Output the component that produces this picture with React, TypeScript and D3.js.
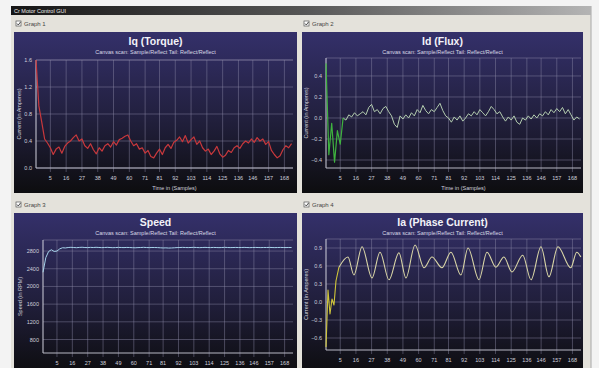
import React from "react";
import * as d3 from "d3";

// ---- shared axis data ----
const xTickLabels = [5, 16, 27, 38, 49, 60, 71, 81, 92, 103, 114, 125, 136, 146, 157, 168];
const xDomain: [number, number] = [-5, 174];
const sampleStart = -5;
const sampleStep = 2;

// ---- Graph 1: Iq (Torque) ----
const iqTicks = [0, 0.4, 0.8, 1.2, 1.6];
const iqValues = [
  1.6, 0.92, 0.68, 0.43, 0.37, 0.3, 0.2, 0.28, 0.31, 0.22,
  0.32, 0.37, 0.4, 0.45, 0.49, 0.4, 0.43, 0.33, 0.29, 0.36,
  0.27, 0.21, 0.3, 0.25, 0.33, 0.36, 0.31, 0.39, 0.34, 0.42,
  0.44, 0.47, 0.49, 0.4, 0.33, 0.36, 0.28, 0.3, 0.22, 0.26,
  0.17, 0.15, 0.22, 0.28, 0.2, 0.3, 0.35, 0.29, 0.38, 0.41,
  0.46, 0.39, 0.48, 0.37, 0.42, 0.46, 0.35, 0.4, 0.3, 0.25,
  0.28, 0.2, 0.25, 0.32, 0.21, 0.16, 0.19, 0.26, 0.23, 0.3,
  0.33, 0.29, 0.36, 0.4, 0.37, 0.43, 0.38, 0.45, 0.4, 0.43,
  0.35, 0.39, 0.26, 0.2, 0.15, 0.18, 0.27, 0.33, 0.3, 0.36,
];

// ---- Graph 2: Id (Flux) ----
const idTicks = [-0.4, -0.2, 0, 0.2, 0.4];
const idValues = [
  0.52, -0.35, -0.05, -0.42, -0.12, -0.25, 0.0, -0.02, 0.03, 0.01,
  0.05, 0.02, 0.04, 0.06, 0.03, 0.1, 0.13, 0.06, 0.08, 0.04,
  0.09, 0.11, 0.06, 0.02, -0.06, -0.09, 0.02, -0.01, 0.03, 0.0,
  0.05, 0.02, 0.08, 0.05, 0.12, 0.07, 0.04, 0.08, 0.06, 0.1,
  0.14, 0.07, 0.02, 0.0, -0.04, 0.01, -0.02, 0.02, -0.03, 0.0,
  0.04, 0.02, 0.06, 0.03, 0.08, 0.05, 0.02, 0.06, 0.11, 0.08,
  0.04, 0.06, 0.01, -0.03, 0.01, -0.02, 0.02, -0.04, -0.06, 0.0,
  -0.02, 0.02, -0.01, 0.03, 0.0, 0.04, 0.02, 0.06, 0.03, 0.08,
  0.05, 0.09, 0.06, 0.1, 0.04, 0.08, 0.03, -0.02, 0.01, -0.01,
];

// ---- Graph 3: Speed ----
const speedTicks = [800, 1200, 1600, 2000, 2400, 2800];
const speedValues = [
  2320, 2650, 2790, 2830, 2790, 2800, 2850, 2875, 2870, 2880,
  2885, 2880, 2876, 2882, 2886, 2880, 2878, 2883, 2880, 2885,
  2881, 2877, 2880, 2884, 2880, 2876, 2879, 2883, 2880, 2878,
  2882, 2880, 2876, 2874, 2878, 2880, 2884, 2880, 2877, 2881,
  2880, 2878, 2874, 2870, 2872, 2868, 2870, 2874, 2878, 2880,
  2883, 2880, 2878, 2881, 2884, 2880, 2877, 2880, 2883, 2880,
  2878, 2882, 2880, 2877, 2880, 2884, 2881, 2878, 2880, 2882,
  2879, 2880, 2883, 2880, 2877, 2880, 2882, 2880, 2878, 2881,
  2880, 2883, 2880, 2878, 2880, 2882, 2880, 2879, 2881, 2880,
];

// ---- Graph 4: Ia (Phase Current) ----
const iaTicks = [-0.6, -0.3, 0, 0.3, 0.6, 0.9];
const iaStartTimes = [-5, -3.6, -2.2, -0.8, 0.6, 2.0, 4.1];
const iaStartValues = [-0.75, 0.2, -0.2, 0.05, -0.05, 0.35, 0.58];
const iaTimes = [
  4.1, 10.4, 14.6, 20.3, 27.3, 32.9, 39.2, 46.2, 51.1, 57.5,
  63.8, 69.4, 76.4, 82.7, 89.7, 94.7, 102.4, 108.0, 114.3, 119.9,
  125.5, 133.1, 138.9, 145.9, 151.5, 157.8, 166.8, 171.0, 173.9,
];
const iaValues = [
  0.58, 0.75, 0.45, 0.92, 0.4, 0.83, 0.37, 0.82, 0.4, 0.95,
  0.57, 0.75, 0.57, 0.83, 0.45, 0.9, 0.37, 0.83, 0.58, 0.75,
  0.5, 0.78, 0.37, 0.92, 0.42, 0.92, 0.57, 0.83, 0.75,
];

type Pt = [number, number];
type Series = { pts: Pt[]; color: string; width: number; smooth?: boolean };

const sampled = (vals: number[]): Pt[] => vals.map((v, i) => [sampleStart + i * sampleStep, v]);

const FONT = "'Liberation Sans', Arial, sans-serif";

interface PanelProps {
  px: number; py: number; pw: number; ph: number;
  plot: { l: number; r: number; t: number; b: number };
  title: string; subtitle: string; yTitle: string; yTitleX: number;
  yDomain: [number, number]; yTicks: number[]; yFmt: (n: number) => string;
  series: Series[]; label: string;
}

function Panel(p: PanelProps) {
  const x = d3.scaleLinear().domain(xDomain).range([p.plot.l, p.plot.r]);
  const y = d3.scaleLinear().domain(p.yDomain).range([p.plot.b, p.plot.t]);
  const cx = (p.px + p.px + p.pw) / 2;
  const grid = "#8f8daa";
  return (
    <g>
      {/* checkbox label */}
      <rect x={p.px + 2} y={p.py - 11} width={5} height={5} fill="#fff" stroke="#555" strokeWidth={0.7} />
      <path d={`M${p.px + 3},${p.py - 8.5} l1.3,1.5 l2.2,-3`} stroke="#222" strokeWidth={0.8} fill="none" />
      <text x={p.px + 10} y={p.py - 6} fontSize={6} fill="#444" fontFamily={FONT}>{p.label}</text>
      <rect x={p.px} y={p.py} width={p.pw} height={p.ph} fill="url(#panelGrad)" />
      <text x={cx} y={p.py + 13} fontSize={10.5} fontWeight="bold" fill="#f2f2f8" textAnchor="middle" fontFamily={FONT}>{p.title}</text>
      <text x={cx} y={p.py + 22} fontSize={5.5} fill="#d8d8e6" textAnchor="middle" fontFamily={FONT}>{p.subtitle}</text>
      {/* horizontal grid */}
      {p.yTicks.map((t) => (
        <line key={"h" + t} x1={p.plot.l} x2={p.plot.r} y1={y(t)} y2={y(t)} stroke={grid} strokeOpacity={0.55} strokeWidth={0.8} />
      ))}
      <line x1={p.plot.l} x2={p.plot.r} y1={p.plot.t} y2={p.plot.t} stroke={grid} strokeOpacity={0.6} strokeWidth={0.8} />
      {/* vertical grid + ticks */}
      {xTickLabels.map((t) => (
        <line key={"v" + t} x1={x(t)} x2={x(t)} y1={p.plot.t} y2={p.plot.b + 4} stroke={grid} strokeOpacity={0.55} strokeWidth={0.8} />
      ))}
      {/* axes */}
      <line x1={p.plot.l} x2={p.plot.l} y1={p.plot.t} y2={p.plot.b} stroke="#d0d0dc" strokeWidth={1} />
      <line x1={p.plot.l} x2={p.plot.r} y1={p.plot.b} y2={p.plot.b} stroke="#b8b8c4" strokeWidth={1} />
      {p.yTicks.map((t) => (
        <text key={"yl" + t} x={p.plot.l - 4} y={y(t) + 2} fontSize={5.5} fill="#cfcfdc" textAnchor="end" fontFamily={FONT}>{p.yFmt(t)}</text>
      ))}
      {xTickLabels.map((t) => (
        <text key={"xl" + t} x={x(t)} y={p.plot.b + 12} fontSize={5.5} fill="#cfcfdc" textAnchor="middle" fontFamily={FONT}>{t}</text>
      ))}
      <text x={(p.plot.l + p.plot.r) / 2 + 10} y={p.plot.b + 22} fontSize={5.5} fill="#cfcfdc" textAnchor="middle" fontFamily={FONT}>Time in (Samples)</text>
      <text transform={`translate(${p.yTitleX},${(p.plot.t + p.plot.b) / 2}) rotate(-90)`} fontSize={5.5} fill="#cfcfdc" textAnchor="middle" fontFamily={FONT}>{p.yTitle}</text>
      {/* series */}
      <g clipPath={undefined}>
        {p.series.map((s, i) => {
          const line = d3.line<Pt>().x((d) => x(d[0])).y((d) => y(d[1]))
            .curve(s.smooth ? d3.curveMonotoneX : d3.curveLinear);
          return <path key={i} d={line(s.pts) || ""} fill="none" stroke={s.color} strokeWidth={s.width} strokeLinejoin="round" />;
        })}
      </g>
    </g>
  );
}

export default function App() {
  const f1 = d3.format(".1f");
  const fInt = d3.format("d");
  const sub = "Canvas scan: Sample/Reflect Tail: Reflect/Reflect";
  const idPts = sampled(idValues);
  const iaStart: Pt[] = iaStartTimes.map((t, i) => [t, iaStartValues[i]]);
  const iaMain: Pt[] = iaTimes.map((t, i) => [t, iaValues[i]]);
  return (
    <svg width={599} height={368} style={{ position: "fixed", left: 0, top: 0 }}>
      <defs>
        <linearGradient id="panelGrad" x1="0" y1="0" x2="0" y2="1">
          <stop offset="0" stopColor="#34306a" />
          <stop offset="0.55" stopColor="#211f3c" />
          <stop offset="1" stopColor="#0d0d0f" />
        </linearGradient>
        <linearGradient id="barGrad" x1="0" y1="0" x2="1" y2="0">
          <stop offset="0" stopColor="#151515" />
          <stop offset="0.5" stopColor="#555" />
          <stop offset="1" stopColor="#b4b4b4" />
        </linearGradient>
      </defs>
      <rect x={0} y={0} width={599} height={368} fill="#f3f3f3" />
      <rect x={11} y={14} width={580} height={354} fill="#e4e2db" />
      <line x1={591} x2={591} y1={6} y2={368} stroke="#a8a8a8" strokeWidth={1} />
      <rect x={11} y={6} width={580} height={9} fill="url(#barGrad)" />
      <text x={14} y={12.5} fontSize={5.5} fill="#e8e8e8" fontFamily={FONT}>Cr Motor Control GUI</text>

      <Panel px={14} py={32} pw={283} ph={161}
        plot={{ l: 36, r: 293, t: 60, b: 168 }}
        title="Iq (Torque)" subtitle={sub} yTitle="Current (in Amperes)" yTitleX={21}
        yDomain={[0, 1.6]} yTicks={iqTicks} yFmt={f1} label="Graph 1"
        series={[{ pts: sampled(iqValues), color: "#c8383c", width: 1.2 }]} />

      <Panel px={302} py={32} pw={281} ph={161}
        plot={{ l: 326, r: 581, t: 58, b: 168 }}
        title="Id (Flux)" subtitle={sub} yTitle="Current (in Amperes)" yTitleX={308}
        yDomain={[-0.476, 0.571]} yTicks={idTicks} yFmt={f1} label="Graph 2"
        series={[
          { pts: idPts.slice(6), color: "#b4cdb0", width: 1 },
          { pts: idPts.slice(0, 7), color: "#3fb33f", width: 1.2 },
        ]} />

      <Panel px={14} py={213} pw={283} ph={160}
        plot={{ l: 43, r: 293, t: 240, b: 353 }}
        title="Speed" subtitle={sub} yTitle="Speed (in RPM)" yTitleX={22}
        yDomain={[495, 3050]} yTicks={speedTicks} yFmt={fInt} label="Graph 3"
        series={[{ pts: sampled(speedValues), color: "#a6d2ea", width: 1 }]} />

      <Panel px={302} py={213} pw={281} ph={160}
        plot={{ l: 326, r: 581, t: 239, b: 350 }}
        title="Ia (Phase Current)" subtitle={sub} yTitle="Current (in Amperes)" yTitleX={308}
        yDomain={[-0.8, 1.05]} yTicks={iaTicks} yFmt={f1} label="Graph 4"
        series={[
          { pts: iaMain, color: "#d9d5a6", width: 1.1, smooth: true },
          { pts: iaStart, color: "#cfc53a", width: 1.1 },
        ]} />
    </svg>
  );
}
